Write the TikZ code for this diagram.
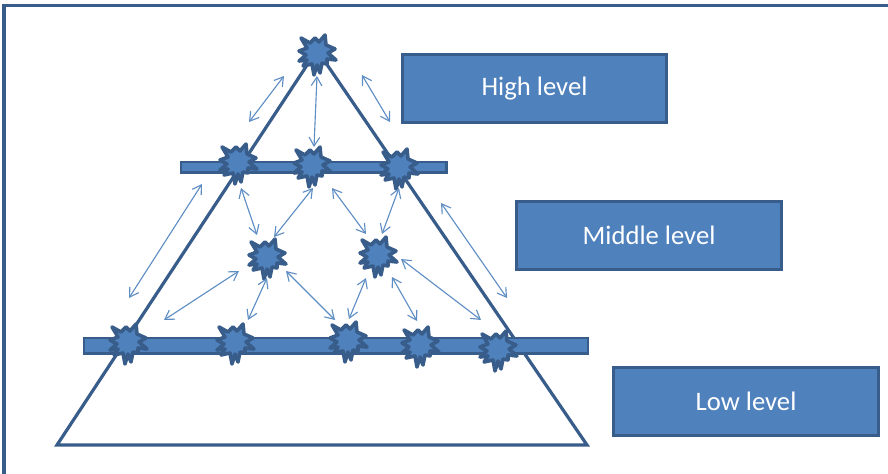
\documentclass[tikz,border=0pt]{standalone}
\usepackage{fontspec}
\setmainfont{Carlito}
\usetikzlibrary{arrows.meta}
\definecolor{bfill}{HTML}{4F81BD}
\definecolor{bline}{HTML}{385D8A}
\definecolor{alink}{HTML}{5F8EC4}
\tikzset{
  x=0.75pt,y=-0.75pt,
  burst/.style={draw=bline,fill=bfill,line width=2.7pt,line join=round},
  bar/.style={draw=bline,fill=bfill,line width=2pt,inner sep=0pt,outer sep=0pt,anchor=north west},
  labelbox/.style={draw=bline,fill=bfill,line width=2.2pt,inner sep=0pt,outer sep=0pt,text=white,font=\fontsize{20}{22}\selectfont,
    minimum width=198.5pt,minimum height=51pt},
  link/.style={draw=alink,line width=0.85pt,{Straight Barb[length=6.5pt,width=8pt]}-{Straight Barb[length=6.5pt,width=8pt]}},
}
\newcommand{\burstat}[4]{% name, x, y, rotation
  \coordinate (#1) at (#2,#3);
  \draw[burst,shift={(#1)},rotate=#4]
    (-16,-15) -- (-7,-10) -- (-2,-15) -- (2,-11) -- (8,-18) -- (9,-8) -- (18,-4) -- (11,0)
    -- (19,7) -- (10,6) -- (10,11) -- (5,10) -- (3,20) -- (0,12) -- (-3,22) -- (-5,11)
    -- (-14,13) -- (-10,7) -- (-18,8) -- (-11,2) -- (-18,-2) -- (-10,-5) -- cycle;
}
\begin{document}
\begin{tikzpicture}
\useasboundingbox (0,0) rectangle (888,474);
\coordinate (fa) at (4,474);
\coordinate (fb) at (4,5.5);
\coordinate (fc) at (888,5.5);
\draw[draw=bline,line width=2.4pt,line join=miter] (fa) -- (fb) -- (fc);
\coordinate (apex) at (317,50);
\coordinate (bl) at (57,445);
\coordinate (br) at (587,445);
\draw[draw=bline,line width=2.4pt,line join=miter] (apex) -- (bl) -- (br) -- cycle;
\node[bar,minimum width=199pt,minimum height=8pt] (bartop) at (181,162) {};
\node[bar,minimum width=378pt,minimum height=11.5pt] (barlow) at (84,338) {};
\burstat{t}{317}{53}{0}
\burstat{m1}{238}{162}{0}
\burstat{m2}{312}{165}{0}
\burstat{m3}{399}{167}{0}
\burstat{c1}{267}{257}{0}
\burstat{c2}{378}{255}{0}
\burstat{b1}{128}{342}{0}
\burstat{b2}{235}{342}{0}
\burstat{b3}{348}{340}{0}
\burstat{b4}{420}{345}{0}
\burstat{b5}{498}{349}{0}
\node[labelbox] (high) at (534.5,88.5) {\raisebox{-3pt}{High level}};
\node[labelbox] (middle) at (649,235.5) {\raisebox{-3pt}{Middle level}};
\node[labelbox] (low) at (746,401.5) {\raisebox{-3pt}{Low level}};
\coordinate (a1) at (284,76); \coordinate (a2) at (249,122);
\coordinate (a3) at (317,76); \coordinate (a4) at (314,147);
\coordinate (a5) at (362,75); \coordinate (a6) at (390,122);
\coordinate (a7) at (202,184); \coordinate (a8) at (129,298);
\coordinate (a9) at (441,203); \coordinate (a10) at (507,298);
\coordinate (a11) at (241,188); \coordinate (a12) at (257,235);
\coordinate (a13) at (313,188); \coordinate (a14) at (274,237);
\coordinate (a15) at (332,188); \coordinate (a16) at (366,234);
\coordinate (a17) at (399,188); \coordinate (a18) at (382,234);
\coordinate (a19) at (239,271); \coordinate (a20) at (164,320);
\coordinate (a21) at (267,278); \coordinate (a22) at (248,320);
\coordinate (a23) at (286,271); \coordinate (a24) at (335,320);
\coordinate (a25) at (366,278); \coordinate (a26) at (349,319);
\coordinate (a27) at (392,277); \coordinate (a28) at (417,321);
\coordinate (a29) at (401,259); \coordinate (a30) at (481,320);
\foreach \p/\q in {a1/a2,a3/a4,a5/a6,a7/a8,a9/a10,a11/a12,a13/a14,a15/a16,a17/a18,a19/a20,a21/a22,a23/a24,a25/a26,a27/a28,a29/a30}
  \draw[link] (\p) -- (\q);
\end{tikzpicture}
\end{document}
